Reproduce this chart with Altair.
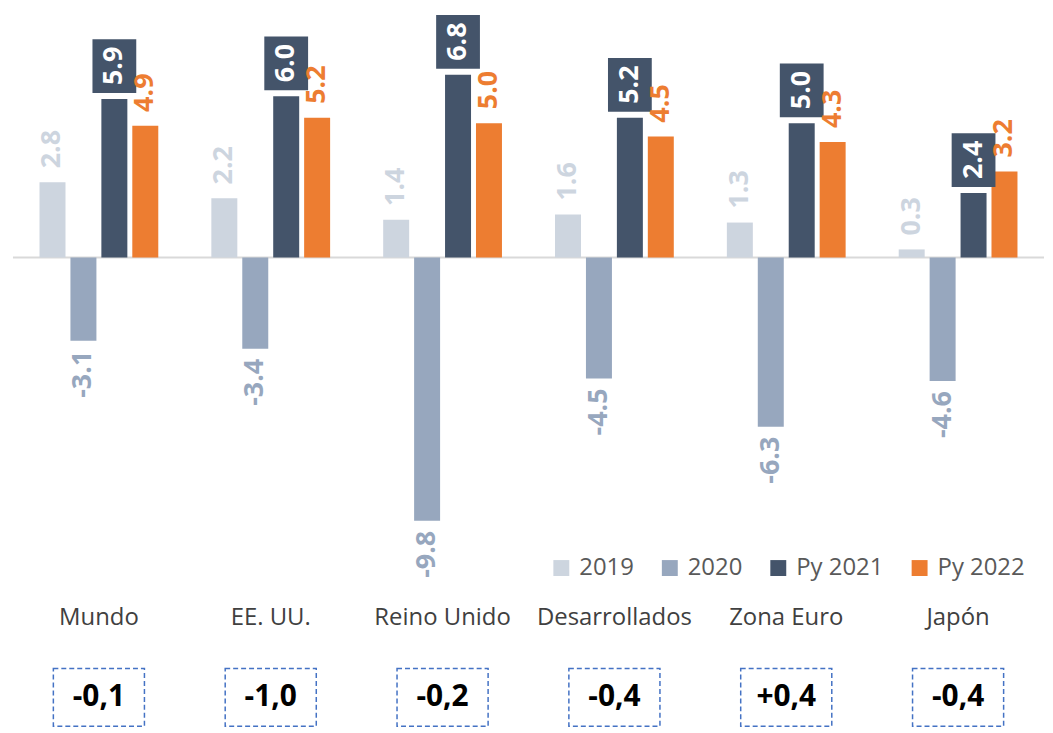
import altair as alt
import pandas as pd

categories = ["Mundo", "EE. UU.", "Reino Unido", "Desarrollados", "Zona Euro", "Japón"]
series = ["2019", "2020", "Py 2021", "Py 2022"]
vals_2019 = [2.8, 2.2, 1.4, 1.6, 1.3, 0.3]
vals_2020 = [-3.1, -3.4, -9.8, -4.5, -6.3, -4.6]
vals_2021 = [5.9, 6.0, 6.8, 5.2, 5.0, 2.4]
vals_2022 = [4.9, 5.2, 5.0, 4.5, 4.3, 3.2]
changes = ["-0,1", "-1,0", "-0,2", "-0,4", "+0,4", "-0,4"]

bar_colors = ["#CDD5DF", "#97A7BE", "#44546A", "#ED7D31"]
label_colors = ["#CDD5DF", "#97A7BE", "#FFFFFF", "#ED7D31"]

rows = []
for s, vals in zip(series, [vals_2019, vals_2020, vals_2021, vals_2022]):
    for c, v in zip(categories, vals):
        rows.append({"cat": c, "series": s, "value": v, "label": f"{v:.1f}"})
df = pd.DataFrame(rows)

FONT = "Open Sans"

x = alt.X(
    "cat:N", sort=categories,
    scale=alt.Scale(paddingInner=0.28, paddingOuter=0.14),
    axis=alt.Axis(title=None, labelAngle=0, domain=False, ticks=False, tickSize=0,
                  labelFontSize=24, labelColor="#404040", labelPadding=12, labelFont=FONT),
)
xo = alt.XOffset("series:N", sort=series, scale=alt.Scale(paddingInner=0.16, paddingOuter=0.08))
yscale = alt.Scale(domain=[-12.52, 9.22], nice=False, zero=False)
y = alt.Y("value:Q", scale=yscale, axis=None)

base = alt.Chart(df)

zero = alt.Chart(pd.DataFrame({"z": [0]})).mark_rule(color="#D9D9D9", strokeWidth=2).encode(
    y=alt.Y("z:Q", scale=yscale, axis=None)
)

bars = base.mark_bar().encode(
    x=x, xOffset=xo, y=y,
    color=alt.Color(
        "series:N", sort=series,
        scale=alt.Scale(domain=series, range=bar_colors),
        legend=alt.Legend(title=None, orient="none", legendX=539, legendY=549,
                          direction="horizontal", symbolType="square", symbolSize=256,
                          labelFontSize=24, labelColor="#595959", labelFont=FONT,
                          columnPadding=24, labelOffset=6, padding=0, symbolStrokeWidth=0),
    ),
)

box = base.transform_filter(alt.datum.series == "Py 2021").transform_calculate(
    b0="datum.value + 0.22", b1="datum.value + 2.22"
).mark_bar(width=44, color="#44546A").encode(
    x=x, xOffset=xo,
    y=alt.Y("b0:Q", scale=yscale, axis=None), y2="b1:Q",
)

labels = []
for s, lc in zip(series, label_colors):
    neg = s == "2020"
    labels.append(
        base.transform_filter(alt.datum.series == s).mark_text(
            angle=270, align="right" if neg else "left", baseline="middle",
            dx=-10 if neg else 14, fontSize=27, fontWeight="bold", color=lc, font=FONT,
        ).encode(x=x, xOffset=xo, y=y, text="label:N")
    )

top = alt.layer(zero, bars, box, *labels).properties(width=1036, height=587)

bdf = pd.DataFrame({"cat": categories, "change": changes})
xb = alt.X("cat:N", sort=categories, scale=alt.Scale(paddingInner=0.47, paddingOuter=0.235), axis=None)
rects = alt.Chart(bdf).mark_rect(fill="white", stroke="#4472C4", strokeDash=[5, 3], strokeWidth=1.5).encode(x=xb)
texts = alt.Chart(bdf).mark_text(fontSize=30, fontWeight="bold", color="black", font=FONT).encode(
    x=xb, text="change:N"
)
bottom = alt.layer(rects, texts).properties(width=1036, height=58)

chart = alt.vconcat(top, bottom, spacing=38).resolve_scale(x="independent").properties(
    padding={"left": 4, "top": 0, "right": 0, "bottom": 0}
).configure(font=FONT).configure_view(stroke=None)

chart.save("out.html", embed_options={"renderer": "svg", "actions": False})
